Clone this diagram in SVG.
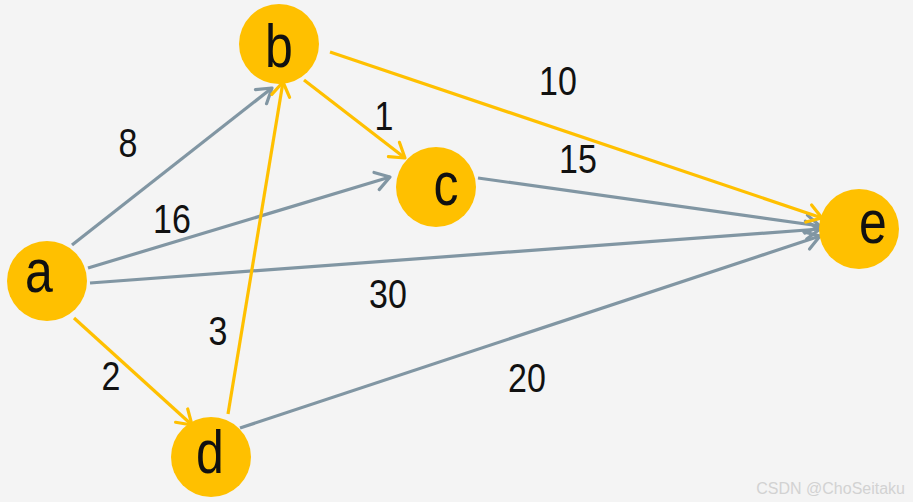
<svg xmlns="http://www.w3.org/2000/svg" width="913" height="502" viewBox="0 0 913 502">
<defs>
<style>
.eg{stroke:#8196A3;stroke-width:3.2;fill:none}
.eo{stroke:#FFC000;stroke-width:3.2;fill:none}
.node{fill:#FFC000}
.lt{font-family:"Liberation Sans",Arial,sans-serif;font-size:50px;fill:#111;text-anchor:middle}
.nt{font-family:"Liberation Sans",Arial,sans-serif;font-size:34px;fill:#111;text-anchor:middle}
</style>
<marker id="ag" markerUnits="userSpaceOnUse" markerWidth="24" markerHeight="24" viewBox="-18 -12 24 24" refX="0" refY="0" orient="auto">
<path d="M-14,-9 L0,0 L-14,9" fill="none" stroke="#8196A3" stroke-width="3.2" stroke-linecap="round" stroke-linejoin="round"/>
</marker>
<marker id="ao" markerUnits="userSpaceOnUse" markerWidth="24" markerHeight="24" viewBox="-18 -12 24 24" refX="0" refY="0" orient="auto">
<path d="M-14,-9 L0,0 L-14,9" fill="none" stroke="#FFC000" stroke-width="3.2" stroke-linecap="round" stroke-linejoin="round"/>
</marker>
</defs>
<rect width="913" height="502" fill="#F4F4F4"/>
<g id="connectors">
<line class="eg" x1="72" y1="245" x2="272" y2="88" marker-end="url(#ag)"/>
<line class="eg" x1="88" y1="268" x2="390" y2="177" marker-end="url(#ag)"/>
<line class="eg" x1="90" y1="283" x2="820" y2="229" marker-end="url(#ag)"/>
<line class="eg" x1="478" y1="178" x2="820" y2="226" marker-end="url(#ag)"/>
<line class="eg" x1="240" y1="428" x2="820" y2="236" marker-end="url(#ag)"/>
<line class="eo" x1="304" y1="80" x2="405" y2="158" marker-end="url(#ao)"/>
<line class="eo" x1="330" y1="52" x2="822" y2="218" marker-end="url(#ao)"/>
<line class="eo" x1="74" y1="318" x2="192" y2="425" marker-end="url(#ao)"/>
<line class="eo" x1="228" y1="414" x2="283" y2="82" marker-end="url(#ao)"/>
</g>
<g id="edge-labels">
<text class="nt" transform="translate(128,157) scale(1,1.22)">8</text>
<text class="nt" transform="translate(172,233) scale(1,1.22)">16</text>
<text class="nt" transform="translate(384,130) scale(1,1.22)">1</text>
<text class="nt" transform="translate(558,95) scale(1,1.22)">10</text>
<text class="nt" transform="translate(578,173) scale(1,1.22)">15</text>
<text class="nt" transform="translate(388,308) scale(1,1.22)">30</text>
<text class="nt" transform="translate(218,345) scale(1,1.22)">3</text>
<text class="nt" transform="translate(111,390) scale(1,1.22)">2</text>
<text class="nt" transform="translate(527,392) scale(1,1.22)">20</text>
</g>
<g id="node-a"><circle class="node" cx="47" cy="281" r="40"/><text class="lt" transform="translate(39,292) scale(1,1.22)">a</text></g>
<g id="node-b"><circle class="node" cx="279" cy="44" r="40"/><text class="lt" transform="translate(279,67) scale(1,1.22)">b</text></g>
<g id="node-c"><circle class="node" cx="436" cy="187" r="40"/><text class="lt" transform="translate(446,205) scale(1,1.22)">c</text></g>
<g id="node-d"><circle class="node" cx="211" cy="457" r="40"/><text class="lt" transform="translate(210,473) scale(1,1.22)">d</text></g>
<g id="node-e"><circle class="node" cx="859" cy="229" r="40"/><text class="lt" transform="translate(873,243) scale(1,1.22)">e</text></g>
<text x="905" y="494" font-family="'Liberation Sans',Arial,sans-serif" font-size="16" fill="#D2D2D2" text-anchor="end">CSDN @ChoSeitaku</text>
</svg>
